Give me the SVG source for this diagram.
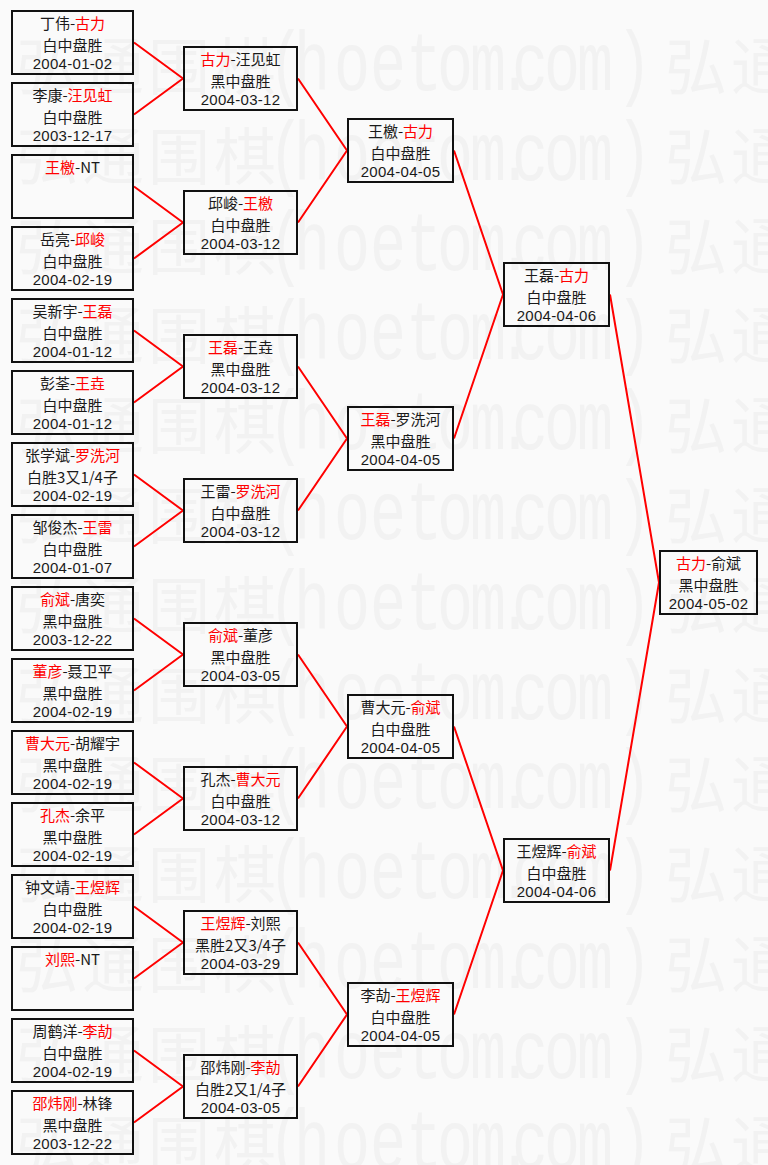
<svg xmlns="http://www.w3.org/2000/svg" xmlns:xlink="http://www.w3.org/1999/xlink" width="768" height="1165" viewBox="0 0 768 1165">
<style>
.bg{fill:#fafafa}
.wm{fill:#f2f2f2}
.wc{font-family:"Noto Sans CJK SC",sans-serif;font-size:62px}
.wl{font-family:"Liberation Mono",monospace;font-size:60px}
.b{fill:none;stroke:#111;stroke-width:2}
.t{font-family:"Noto Sans CJK SC",sans-serif;font-size:15px;fill:#1a1a1a;text-anchor:middle}
.d{font-family:"Liberation Sans",sans-serif;font-size:15px;letter-spacing:0.3px;fill:#1a1a1a;text-anchor:middle}
.r{fill:#f00}
.c path{fill:none;stroke:#f00;stroke-width:2}
</style>
<defs>
<g id="wmr" class="wm">
<text class="wc" x="16 82 148 214">弘通围棋</text>
<text class="wl" transform="scale(1,1.4)" x="268 294 334 370 406 437 470 497 512 544 577 616">(hoetom.com)</text>
<text class="wc" x="665 731">弘通</text>
</g>
</defs>
<rect class="bg" x="0" y="0" width="768" height="1165"/>
<g id="watermark">
<use xlink:href="#wmr" y="90"/>
<use xlink:href="#wmr" y="180"/>
<use xlink:href="#wmr" y="270"/>
<use xlink:href="#wmr" y="359"/>
<use xlink:href="#wmr" y="449"/>
<use xlink:href="#wmr" y="539"/>
<use xlink:href="#wmr" y="629"/>
<use xlink:href="#wmr" y="719"/>
<use xlink:href="#wmr" y="808"/>
<use xlink:href="#wmr" y="898"/>
<use xlink:href="#wmr" y="988"/>
<use xlink:href="#wmr" y="1078"/>
<use xlink:href="#wmr" y="1168"/>
</g>
<g id="connectors" class="c">
<path d="M134,42.5L183,78.5M134,114.5L183,78.5"/>
<path d="M134,186.5L183,222.5M134,258.5L183,222.5"/>
<path d="M134,330.5L183,366.5M134,402.5L183,366.5"/>
<path d="M134,474.5L183,510.5M134,546.5L183,510.5"/>
<path d="M134,618.5L183,654.5M134,690.5L183,654.5"/>
<path d="M134,762.5L183,798.5M134,834.5L183,798.5"/>
<path d="M134,906.5L183,942.5M134,978.5L183,942.5"/>
<path d="M134,1050.5L183,1086.5M134,1122.5L183,1086.5"/>
<path d="M298,78.5L347,150.5M298,222.5L347,150.5"/>
<path d="M298,366.5L347,438.5M298,510.5L347,438.5"/>
<path d="M298,654.5L347,726.5M298,798.5L347,726.5"/>
<path d="M298,942.5L347,1014.5M298,1086.5L347,1014.5"/>
<path d="M454,150.5L503,294.5M454,438.5L503,294.5"/>
<path d="M454,726.5L503,870.5M454,1014.5L503,870.5"/>
<path d="M610,294.5L659,582.5M610,870.5L659,582.5"/>
</g>
<!-- Round 1 -->
<g id="r1-01" transform="translate(11,10)"><rect class="b" x="1" y="1" width="121" height="63"/><text class="t" x="61.5" y="19">丁伟-<tspan class="r">古力</tspan></text><text class="t" x="61.5" y="40.8">白中盘胜</text><text class="d" x="61.5" y="59">2004-01-02</text></g>
<g id="r1-02" transform="translate(11,82)"><rect class="b" x="1" y="1" width="121" height="63"/><text class="t" x="61.5" y="19">李康-<tspan class="r">汪见虹</tspan></text><text class="t" x="61.5" y="40.8">白中盘胜</text><text class="d" x="61.5" y="59">2003-12-17</text></g>
<g id="r1-03" transform="translate(11,154)"><rect class="b" x="1" y="1" width="121" height="63"/><text class="t" x="61.5" y="19"><tspan class="r">王檄</tspan>-NT</text></g>
<g id="r1-04" transform="translate(11,226)"><rect class="b" x="1" y="1" width="121" height="63"/><text class="t" x="61.5" y="19">岳亮-<tspan class="r">邱峻</tspan></text><text class="t" x="61.5" y="40.8">白中盘胜</text><text class="d" x="61.5" y="59">2004-02-19</text></g>
<g id="r1-05" transform="translate(11,298)"><rect class="b" x="1" y="1" width="121" height="63"/><text class="t" x="61.5" y="19">吴新宇-<tspan class="r">王磊</tspan></text><text class="t" x="61.5" y="40.8">白中盘胜</text><text class="d" x="61.5" y="59">2004-01-12</text></g>
<g id="r1-06" transform="translate(11,370)"><rect class="b" x="1" y="1" width="121" height="63"/><text class="t" x="61.5" y="19">彭荃-<tspan class="r">王垚</tspan></text><text class="t" x="61.5" y="40.8">白中盘胜</text><text class="d" x="61.5" y="59">2004-01-12</text></g>
<g id="r1-07" transform="translate(11,442)"><rect class="b" x="1" y="1" width="121" height="63"/><text class="t" x="61.5" y="19">张学斌-<tspan class="r">罗洗河</tspan></text><text class="t" x="61.5" y="40.8">白胜3又1/4子</text><text class="d" x="61.5" y="59">2004-02-19</text></g>
<g id="r1-08" transform="translate(11,514)"><rect class="b" x="1" y="1" width="121" height="63"/><text class="t" x="61.5" y="19">邹俊杰-<tspan class="r">王雷</tspan></text><text class="t" x="61.5" y="40.8">白中盘胜</text><text class="d" x="61.5" y="59">2004-01-07</text></g>
<g id="r1-09" transform="translate(11,586)"><rect class="b" x="1" y="1" width="121" height="63"/><text class="t" x="61.5" y="19"><tspan class="r">俞斌</tspan>-唐奕</text><text class="t" x="61.5" y="40.8">黑中盘胜</text><text class="d" x="61.5" y="59">2003-12-22</text></g>
<g id="r1-10" transform="translate(11,658)"><rect class="b" x="1" y="1" width="121" height="63"/><text class="t" x="61.5" y="19"><tspan class="r">董彦</tspan>-聂卫平</text><text class="t" x="61.5" y="40.8">黑中盘胜</text><text class="d" x="61.5" y="59">2004-02-19</text></g>
<g id="r1-11" transform="translate(11,730)"><rect class="b" x="1" y="1" width="121" height="63"/><text class="t" x="61.5" y="19"><tspan class="r">曹大元</tspan>-胡耀宇</text><text class="t" x="61.5" y="40.8">黑中盘胜</text><text class="d" x="61.5" y="59">2004-02-19</text></g>
<g id="r1-12" transform="translate(11,802)"><rect class="b" x="1" y="1" width="121" height="63"/><text class="t" x="61.5" y="19"><tspan class="r">孔杰</tspan>-余平</text><text class="t" x="61.5" y="40.8">黑中盘胜</text><text class="d" x="61.5" y="59">2004-02-19</text></g>
<g id="r1-13" transform="translate(11,874)"><rect class="b" x="1" y="1" width="121" height="63"/><text class="t" x="61.5" y="19">钟文靖-<tspan class="r">王煜辉</tspan></text><text class="t" x="61.5" y="40.8">白中盘胜</text><text class="d" x="61.5" y="59">2004-02-19</text></g>
<g id="r1-14" transform="translate(11,946)"><rect class="b" x="1" y="1" width="121" height="63"/><text class="t" x="61.5" y="19"><tspan class="r">刘熙</tspan>-NT</text></g>
<g id="r1-15" transform="translate(11,1018)"><rect class="b" x="1" y="1" width="121" height="63"/><text class="t" x="61.5" y="19">周鹤洋-<tspan class="r">李劼</tspan></text><text class="t" x="61.5" y="40.8">白中盘胜</text><text class="d" x="61.5" y="59">2004-02-19</text></g>
<g id="r1-16" transform="translate(11,1090)"><rect class="b" x="1" y="1" width="121" height="63"/><text class="t" x="61.5" y="19"><tspan class="r">邵炜刚</tspan>-林锋</text><text class="t" x="61.5" y="40.8">黑中盘胜</text><text class="d" x="61.5" y="59">2003-12-22</text></g>
<!-- Round 2 -->
<g id="r2-1" transform="translate(183,46)"><rect class="b" x="1" y="1" width="113" height="63"/><text class="t" x="57.5" y="19"><tspan class="r">古力</tspan>-汪见虹</text><text class="t" x="57.5" y="40.8">黑中盘胜</text><text class="d" x="57.5" y="59">2004-03-12</text></g>
<g id="r2-2" transform="translate(183,190)"><rect class="b" x="1" y="1" width="113" height="63"/><text class="t" x="57.5" y="19">邱峻-<tspan class="r">王檄</tspan></text><text class="t" x="57.5" y="40.8">白中盘胜</text><text class="d" x="57.5" y="59">2004-03-12</text></g>
<g id="r2-3" transform="translate(183,334)"><rect class="b" x="1" y="1" width="113" height="63"/><text class="t" x="57.5" y="19"><tspan class="r">王磊</tspan>-王垚</text><text class="t" x="57.5" y="40.8">黑中盘胜</text><text class="d" x="57.5" y="59">2004-03-12</text></g>
<g id="r2-4" transform="translate(183,478)"><rect class="b" x="1" y="1" width="113" height="63"/><text class="t" x="57.5" y="19">王雷-<tspan class="r">罗洗河</tspan></text><text class="t" x="57.5" y="40.8">白中盘胜</text><text class="d" x="57.5" y="59">2004-03-12</text></g>
<g id="r2-5" transform="translate(183,622)"><rect class="b" x="1" y="1" width="113" height="63"/><text class="t" x="57.5" y="19"><tspan class="r">俞斌</tspan>-董彦</text><text class="t" x="57.5" y="40.8">黑中盘胜</text><text class="d" x="57.5" y="59">2004-03-05</text></g>
<g id="r2-6" transform="translate(183,766)"><rect class="b" x="1" y="1" width="113" height="63"/><text class="t" x="57.5" y="19">孔杰-<tspan class="r">曹大元</tspan></text><text class="t" x="57.5" y="40.8">白中盘胜</text><text class="d" x="57.5" y="59">2004-03-12</text></g>
<g id="r2-7" transform="translate(183,910)"><rect class="b" x="1" y="1" width="113" height="63"/><text class="t" x="57.5" y="19"><tspan class="r">王煜辉</tspan>-刘熙</text><text class="t" x="57.5" y="40.8">黑胜2又3/4子</text><text class="d" x="57.5" y="59">2004-03-29</text></g>
<g id="r2-8" transform="translate(183,1054)"><rect class="b" x="1" y="1" width="113" height="63"/><text class="t" x="57.5" y="19">邵炜刚-<tspan class="r">李劼</tspan></text><text class="t" x="57.5" y="40.8">白胜2又1/4子</text><text class="d" x="57.5" y="59">2004-03-05</text></g>
<!-- Round 3 -->
<g id="r3-1" transform="translate(347,118)"><rect class="b" x="1" y="1" width="105" height="63"/><text class="t" x="53.5" y="19">王檄-<tspan class="r">古力</tspan></text><text class="t" x="53.5" y="40.8">白中盘胜</text><text class="d" x="53.5" y="59">2004-04-05</text></g>
<g id="r3-2" transform="translate(347,406)"><rect class="b" x="1" y="1" width="105" height="63"/><text class="t" x="53.5" y="19"><tspan class="r">王磊</tspan>-罗洗河</text><text class="t" x="53.5" y="40.8">黑中盘胜</text><text class="d" x="53.5" y="59">2004-04-05</text></g>
<g id="r3-3" transform="translate(347,694)"><rect class="b" x="1" y="1" width="105" height="63"/><text class="t" x="53.5" y="19">曹大元-<tspan class="r">俞斌</tspan></text><text class="t" x="53.5" y="40.8">白中盘胜</text><text class="d" x="53.5" y="59">2004-04-05</text></g>
<g id="r3-4" transform="translate(347,982)"><rect class="b" x="1" y="1" width="105" height="63"/><text class="t" x="53.5" y="19">李劼-<tspan class="r">王煜辉</tspan></text><text class="t" x="53.5" y="40.8">白中盘胜</text><text class="d" x="53.5" y="59">2004-04-05</text></g>
<!-- Round 4 -->
<g id="r4-1" transform="translate(503,262)"><rect class="b" x="1" y="1" width="105" height="63"/><text class="t" x="53.5" y="19">王磊-<tspan class="r">古力</tspan></text><text class="t" x="53.5" y="40.8">白中盘胜</text><text class="d" x="53.5" y="59">2004-04-06</text></g>
<g id="r4-2" transform="translate(503,838)"><rect class="b" x="1" y="1" width="105" height="63"/><text class="t" x="53.5" y="19">王煜辉-<tspan class="r">俞斌</tspan></text><text class="t" x="53.5" y="40.8">白中盘胜</text><text class="d" x="53.5" y="59">2004-04-06</text></g>
<!-- Final -->
<g id="final" transform="translate(659,550)"><rect class="b" x="1" y="1" width="97" height="63"/><text class="t" x="49.5" y="19"><tspan class="r">古力</tspan>-俞斌</text><text class="t" x="49.5" y="40.8">黑中盘胜</text><text class="d" x="49.5" y="59">2004-05-02</text></g>
</svg>
